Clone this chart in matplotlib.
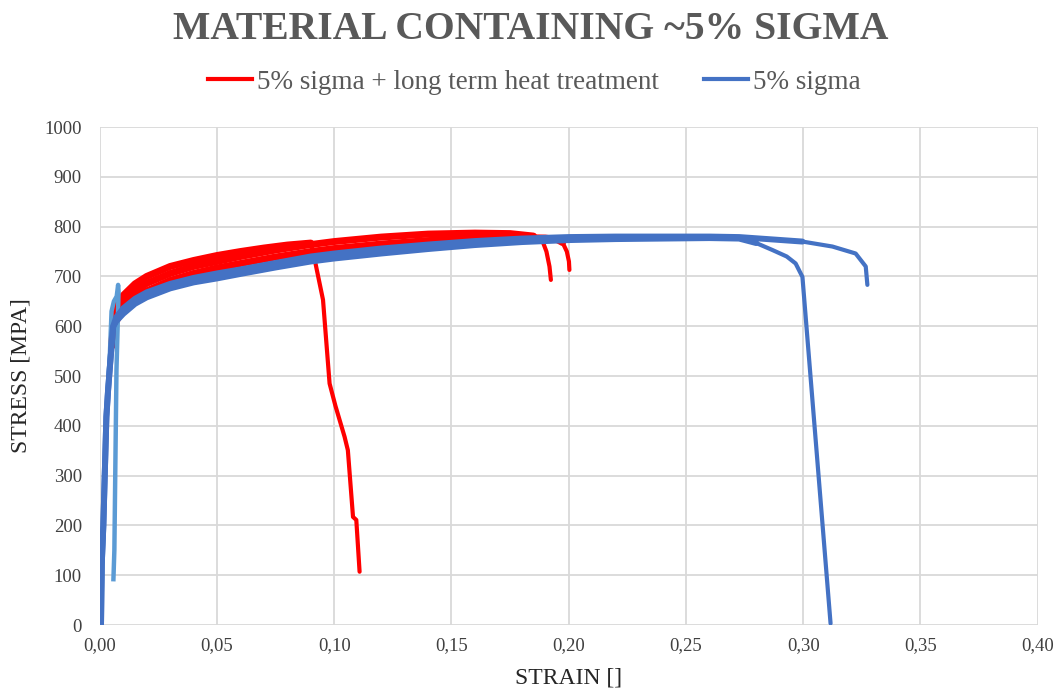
import matplotlib.pyplot as plt
import numpy as np
from matplotlib.lines import Line2D

# Figure constants
DPI = 100
RED = "#FF0000"
DARK_BLUE = "#4472C4"
LIGHT_BLUE = "#5B9BD5"
TEXT_GREY = "#595959"
GRID_GREY = "#D9D9D9"

# 5% sigma + long term heat treatment, three specimens
# (elastic part is hidden behind the blue curves, so it starts at the yield knee)
red_1_strain = [0.005, 0.006, 0.007, 0.01, 0.015, 0.02, 0.03, 0.04, 0.05, 0.06, 0.07,
                0.08, 0.09, 0.0912, 0.0923, 0.0952, 0.098, 0.1005, 0.1044, 0.1058,
                0.108, 0.1094, 0.1108]
red_1_stress = [560, 612, 640, 662, 685, 700, 720, 732, 742, 750, 757, 763, 767, 745,
                719, 653, 485, 440, 378, 351, 217, 211, 107]

red_2_strain = [0.005, 0.006, 0.007, 0.01, 0.015, 0.02, 0.03, 0.04, 0.05, 0.06, 0.075,
                0.09, 0.1, 0.12, 0.14, 0.16, 0.175, 0.185, 0.1889, 0.1905, 0.1918,
                0.1924]
red_2_stress = [560, 603, 625, 648, 670, 686, 706, 720, 730, 740, 753, 764, 770, 779,
                785, 787, 786, 781, 770, 750, 720, 693]

red_3_strain = [0.005, 0.006, 0.007, 0.01, 0.015, 0.02, 0.03, 0.04, 0.05, 0.06, 0.075,
                0.09, 0.1, 0.12, 0.14, 0.16, 0.18, 0.19, 0.195, 0.1974, 0.1992, 0.2001,
                0.2003]
red_3_stress = [560, 592, 610, 635, 656, 671, 692, 706, 717, 726, 739, 750, 756, 765,
                772, 776, 778, 777, 774, 768, 750, 730, 713]

# 5% sigma, two specimens plus the light blue one
blue_1_strain = [0.0005, 0.0008, 0.0015, 0.002, 0.0028, 0.0035, 0.0043, 0.005, 0.0057,
                 0.007, 0.01, 0.015, 0.02, 0.03, 0.04, 0.05, 0.06, 0.075, 0.09, 0.1,
                 0.12, 0.14, 0.16, 0.18, 0.2, 0.22, 0.24, 0.26, 0.2727, 0.28, 0.2869,
                 0.293, 0.2968, 0.2997, 0.3117]
blue_1_stress = [0, 120, 200, 285, 418, 470, 519, 560, 599, 610, 625, 645, 658, 676, 688,
                 696, 705, 718, 730, 736, 746, 755, 763, 769, 773, 775, 776, 777, 776,
                 767, 753, 740, 726, 699, 3]

blue_2_strain = [0.0005, 0.0008, 0.0015, 0.002, 0.0028, 0.0035, 0.0043, 0.005, 0.0057,
                 0.007, 0.01, 0.015, 0.02, 0.03, 0.04, 0.05, 0.06, 0.075, 0.09, 0.1,
                 0.12, 0.14, 0.16, 0.18, 0.2, 0.22, 0.24, 0.26, 0.2727, 0.2997, 0.3125,
                 0.3224, 0.3267, 0.3274]
blue_2_stress = [0, 120, 200, 285, 418, 470, 519, 560, 600, 618, 636, 655, 668, 685, 697,
                 706, 714, 727, 740, 746, 756, 764, 771, 776, 779, 780, 780, 780, 779,
                 770, 760, 746, 720, 683]

light_blue_strain = [0.0005, 0.0015, 0.003, 0.0043, 0.005, 0.006, 0.0072, 0.0078, 0.008,
                     0.0076, 0.0071, 0.0066, 0.0062, 0.0058]
light_blue_stress = [0, 200, 440, 546, 630, 650, 660, 683, 670, 600, 512, 311, 150, 92]

x_ticks = [0, 0.05, 0.10, 0.15, 0.20, 0.25, 0.30, 0.35, 0.40]
x_tick_labels = ["0,00", "0,05", "0,10", "0,15", "0,20", "0,25", "0,30", "0,35", "0,40"]
y_ticks = [0, 100, 200, 300, 400, 500, 600, 700, 800, 900, 1000]


def plot_specimen(ax, strain, stress, color, band_lw, tail_lw, zorder):
    # noisy hardening part looks thick, the fracture tail is a thin line
    stress_arr = np.asarray(stress)
    i_end = int(np.nonzero(stress_arr >= stress_arr.max() - 15)[0][-1])
    ax.plot(strain, stress, color=color, lw=tail_lw, solid_joinstyle="round",
            solid_capstyle="round", zorder=zorder)
    ax.plot(strain[: i_end + 1], stress[: i_end + 1], color=color, lw=band_lw,
            solid_joinstyle="round", solid_capstyle="round", zorder=zorder)


def main():
    plt.rcParams["font.family"] = ["Liberation Serif", "DejaVu Serif"]

    fig = plt.figure(figsize=(10.62, 6.96), dpi=DPI)
    ax = fig.add_axes([0.094, 0.102, 0.883, 0.7155])

    for strain, stress in [(red_1_strain, red_1_stress),
                           (red_2_strain, red_2_stress),
                           (red_3_strain, red_3_stress)]:
        plot_specimen(ax, strain, stress, RED, 5, 3, 3)

    ax.plot(light_blue_strain, light_blue_stress, color=LIGHT_BLUE, lw=3.2, zorder=4)
    for strain, stress in [(blue_1_strain, blue_1_stress),
                           (blue_2_strain, blue_2_stress)]:
        plot_specimen(ax, strain, stress, DARK_BLUE, 4.3, 3, 4)

    ax.set_xlim(0, 0.40)
    ax.set_ylim(0, 1000)
    ax.set_xticks(x_ticks)
    ax.set_xticklabels(x_tick_labels)
    ax.set_yticks(y_ticks)
    ax.tick_params(length=0, labelsize=13.5, labelcolor="#404040")
    ax.tick_params(axis="y", pad=13)
    ax.tick_params(axis="x", pad=9)
    ax.grid(True, color=GRID_GREY, lw=1.3)
    ax.set_axisbelow(True)
    for spine in ax.spines.values():
        spine.set_visible(False)

    ax.set_xlabel("STRAIN []", fontsize=17, color="#262626", labelpad=9)
    ax.set_ylabel("STRESS [MPA]", fontsize=17, color="#262626", labelpad=9)

    fig.text(0.5, 0.957, "MATERIAL CONTAINING ~5% SIGMA", ha="center", va="center",
             fontsize=28.5, fontweight="bold", color=TEXT_GREY)

    handles = [Line2D([], [], color=RED, lw=3),
               Line2D([], [], color=DARK_BLUE, lw=3)]
    labels = ["5% sigma + long term heat treatment", "5% sigma"]
    fig.legend(handles, labels, loc="center", bbox_to_anchor=(0.503, 0.882), ncol=2,
               frameon=False, fontsize=19.5, handlelength=1.65, handletextpad=0.18,
               columnspacing=1.65, labelcolor=TEXT_GREY)

    fig.savefig("out.png", dpi=DPI)
    plt.close(fig)


if __name__ == "__main__":
    main()
